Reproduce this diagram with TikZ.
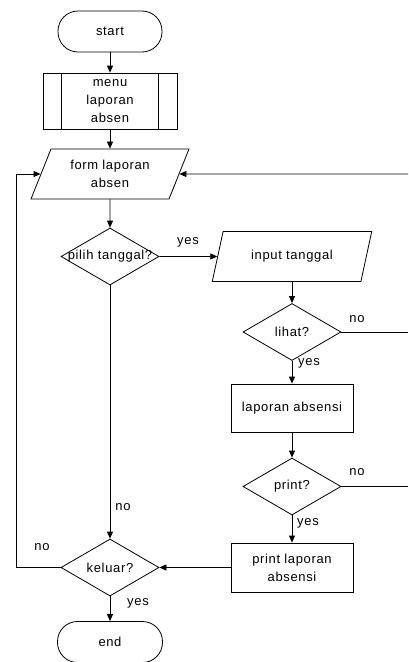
\documentclass[tikz,border=0pt]{standalone}
\usepackage{fontspec}
\setmainfont[LetterSpace=5]{Liberation Sans}
\usetikzlibrary{arrows.meta,shapes.geometric}
\begin{document}
\begin{tikzpicture}[x=1pt,y=-1pt,line width=0.8pt,
  every node/.style={font=\fontsize{13}{18}\selectfont,align=center,inner sep=1pt},
  terminal/.style={draw,rectangle,rounded corners=20pt,minimum width=104pt,minimum height=41pt},
  procbox/.style={draw,rectangle,minimum width=122pt,minimum height=48pt},
  iobox/.style={draw,trapezium,trapezium left angle=65,trapezium right angle=115,
    trapezium stretches=true,minimum width=158pt,minimum height=50pt},
  decision/.style={draw,diamond,inner sep=0pt,minimum width=98pt,minimum height=57pt},
  flow/.style={-{Triangle[length=7pt,width=6pt]}}]
\useasboundingbox (0,0) rectangle (408,662);
\node[terminal] (start) at (110,31.5) {start};
\node[draw,minimum width=134pt,minimum height=56pt] (menu) at (110,101) {menu\\laporan\\absen};
\draw ([xshift=19pt]menu.north west) -- ([xshift=19pt]menu.south west);
\draw ([xshift=-19pt]menu.north east) -- ([xshift=-19pt]menu.south east);
\node[iobox] (form) at (110,174) {form laporan\\absen};
\node[decision] (pilih) at (110,256.5) {\makebox[0pt]{pilih tanggal?}};
\node[iobox,minimum width=160pt] (input) at (292,256.5) {input tanggal};
\node[decision] (lihat) at (292,332) {lihat?};
\node[procbox] (lapor) at (292,408) {laporan absensi};
\node[decision] (print) at (292,486.5) {print?};
\node[procbox,minimum height=49pt] (cetak) at (292,567.5) {print laporan\\absensi};
\node[decision] (keluar) at (110,567.5) {keluar?};
\node[terminal,minimum width=105pt] (end) at (110,642) {end};
\coordinate (kiri) at (16,567.5);
\coordinate (kanan1) at (408,174);
\coordinate (kanan2) at (408,332);
\coordinate (kanan3) at (408,486.5);
\draw[flow] (start) -- (menu);
\draw[flow] (menu) -- (form);
\draw[flow] (form) -- (pilih);
\draw[flow] (pilih.east) -- (input.west);
\draw[flow] (input.south -| lihat.north) -- (lihat.north);
\draw[flow] (lihat) -- (lapor);
\draw[flow] (lapor) -- (print);
\draw[flow] (print) -- (cetak);
\draw[flow] (cetak.west) -- (keluar.east);
\draw[flow] (pilih.south) -- (keluar.north);
\draw[flow] (keluar) -- (end);
\draw[flow] (keluar.west) -- (kiri) |- (form.west);
\draw[flow] (kanan1) -- (form.east);
\draw (lihat.east) -- (kanan2);
\draw (print.east) -- (kanan3);
\node (ya1) at (188,242) {yes};
\node (tidak1) at (357,319) {no};
\node (ya2) at (309,363) {yes};
\node (tidak2) at (357,472) {no};
\node (ya3) at (308,523) {yes};
\node (tidak3) at (123,507) {no};
\node (tidak4) at (42,547) {no};
\node (ya4) at (138,603) {yes};
\end{tikzpicture}
\end{document}
